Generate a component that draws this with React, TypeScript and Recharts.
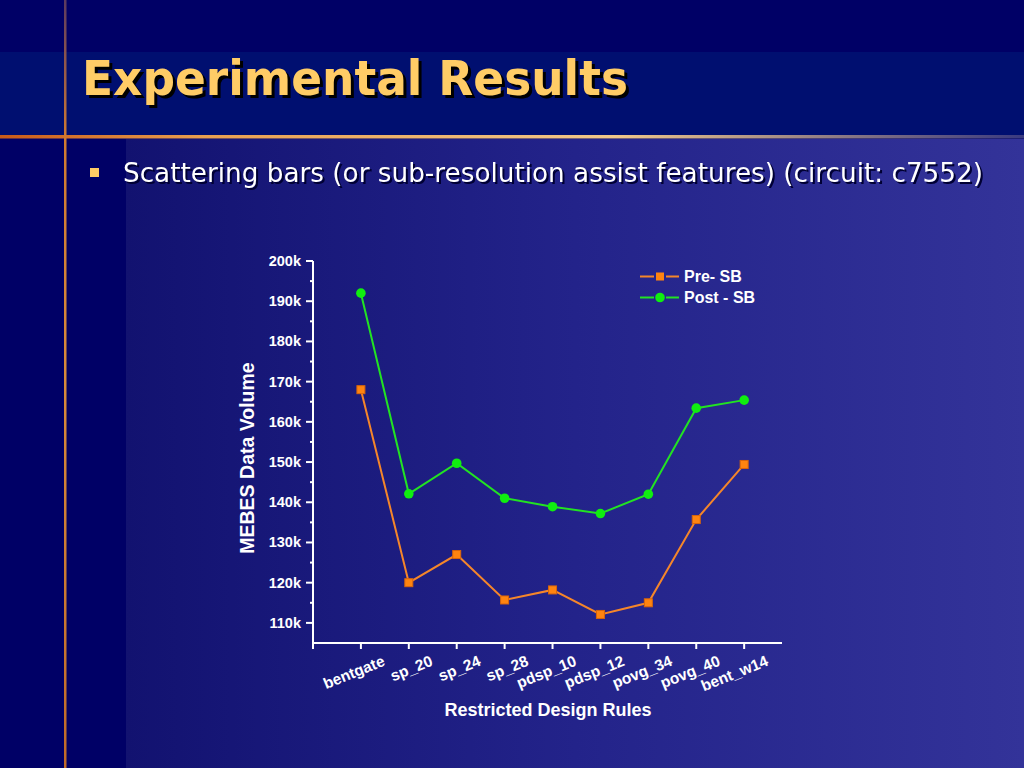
import React from 'react';
import { LineChart, Line, XAxis, YAxis, Legend } from 'recharts';

const categories = ['bentgate', 'sp_20', 'sp_24', 'sp_28', 'pdsp_10', 'pdsp_12', 'povg_34', 'povg_40', 'bent_w14'];
const preSB = [168000, 120000, 127000, 115700, 118200, 112100, 115000, 135700, 149400];
const postSB = [192000, 142100, 149700, 141000, 138900, 137200, 142000, 163400, 165400];
const yTicks = [110000, 115000, 120000, 125000, 130000, 135000, 140000, 145000, 150000, 155000, 160000, 165000, 170000, 175000, 180000, 185000, 190000, 195000, 200000];
const xTicks = [0, 1, 2, 3, 4, 5, 6, 7, 8, 9];

const data = categories.map((name, i) => ({ pos: i + 1, name, pre: preSB[i], post: postSB[i] }));

const ORANGE = '#f5862a';
const GREEN = '#22e322';
const FONT = '"Liberation Sans", Arial, sans-serif';

const YTick = (props: any) => {
  const { x, y, payload } = props;
  const major = payload.value % 10000 === 0;
  const axisX = x + 8;
  return (
    <g>
      <line x1={axisX - (major ? 7 : 3)} x2={axisX} y1={y} y2={y} stroke="#fff" strokeWidth={2} />
      {major && (
        <text x={axisX - 12} y={y} dy={5} textAnchor="end" fill="#fff" fontSize={14.5} fontWeight="bold" fontFamily={FONT}>
          {payload.value / 1000}k
        </text>
      )}
    </g>
  );
};

const XTick = (props: any) => {
  const { x, y, payload } = props;
  const axisY = y - 8;
  const label = categories[payload.value - 1];
  const ax = x + 25;
  const ay = axisY + 22;
  return (
    <g>
      <line x1={x} x2={x} y1={axisY} y2={axisY + 6} stroke="#fff" strokeWidth={2} />
      {label && (
        <text x={ax} y={ay} textAnchor="end" fill="#fff" fontSize={15.5} fontWeight="bold" fontFamily={FONT} transform={`rotate(-22, ${ax}, ${ay})`}>
          {label}
        </text>
      )}
    </g>
  );
};

const SquareDot = (props: any) => {
  const { cx, cy } = props;
  return <rect x={cx - 4} y={cy - 4} width={8} height={8} fill="#ff8410" stroke="#d9650a" strokeWidth={1} />;
};

const CircleDot = (props: any) => {
  const { cx, cy } = props;
  return <circle cx={cx} cy={cy} r={4.8} fill="#10ee10" />;
};

const LegendBox = () => (
  <div style={{ fontFamily: FONT, fontWeight: 'bold', fontSize: 16, color: '#fff', lineHeight: '21px' }}>
    {[
      { label: 'Pre- SB', color: ORANGE, square: true },
      { label: 'Post - SB', color: GREEN, square: false },
    ].map((it) => (
      <div key={it.label} style={{ display: 'flex', alignItems: 'center' }}>
        <svg width={44} height={21}>
          <line x1={0} x2={14} y1={10.5} y2={10.5} stroke={it.color} strokeWidth={2} />
          <line x1={26} x2={39} y1={10.5} y2={10.5} stroke={it.color} strokeWidth={2} />
          {it.square ? (
            <rect x={16} y={6.5} width={8} height={8} fill="#ff8410" />
          ) : (
            <circle cx={20} cy={10.5} r={4.8} fill="#10ee10" />
          )}
        </svg>
        <span>{it.label}</span>
      </div>
    ))}
  </div>
);

export default function App() {
  return (
    <div style={{ position: 'fixed', left: 0, top: 0, width: 1024, height: 768, overflow: 'hidden', background: '#000066' }}>
      {/* slide background */}
      <div style={{ position: 'absolute', left: 0, top: 52, width: 1024, height: 84, background: '#000f70' }} />
      <div style={{ position: 'absolute', left: 126, top: 139, width: 898, height: 629, background: 'linear-gradient(to right, #121270 0%, #23238a 50%, #333399 100%)' }} />
      <svg width={1024} height={768} style={{ position: 'absolute', left: 0, top: 0 }}>
        <defs>
          <linearGradient id="hline" x1="0" x2="1" y1="0" y2="0">
            <stop offset="0" stopColor="#c85a18" />
            <stop offset="0.2" stopColor="#e8a050" />
            <stop offset="0.6" stopColor="#f0c88a" />
            <stop offset="1" stopColor="#3a3a80" />
          </linearGradient>
          <linearGradient id="vline" x1="0" x2="0" y1="0" y2="1">
            <stop offset="0" stopColor="#5a3a60" />
            <stop offset="0.18" stopColor="#d07a30" />
            <stop offset="0.5" stopColor="#d88a3a" />
            <stop offset="1" stopColor="#c06a28" />
          </linearGradient>
        </defs>
        <rect x={0} y={135} width={1024} height={3.5} fill="url(#hline)" />
        <rect x={64} y={0} width={2.5} height={768} fill="url(#vline)" />
        <text
          x={82}
          y={95}
          fontSize={48}
          fontWeight="bold"
          fontFamily='"DejaVu Sans", sans-serif'
          fill="#ffcc66"
          textLength={546}
          lengthAdjust="spacingAndGlyphs"
          style={{ filter: 'drop-shadow(3px 3px 0px #000000)' }}
        >
          Experimental Results
        </text>
        <rect x={90} y={168} width={9} height={9} fill="#ffcc66" />
        <text
          x={123}
          y={182}
          fontSize={26}
          fontFamily='"DejaVu Sans", sans-serif'
          fill="#ffffff"
          textLength={860}
          lengthAdjust="spacingAndGlyphs"
          style={{ filter: 'drop-shadow(2px 2px 0px #000033)' }}
        >
          Scattering bars (or sub-resolution assist features) (circuit: c7552)
        </text>
        <text x={254} y={458} transform="rotate(-90, 254, 458)" textAnchor="middle" fontSize={19.5} fontWeight="bold" fontFamily={FONT} fill="#fff">
          MEBES Data Volume
        </text>
        <text x={548} y={716} textAnchor="middle" fontSize={18} fontWeight="bold" fontFamily={FONT} fill="#fff">
          Restricted Design Rules
        </text>
      </svg>
      <div style={{ position: 'absolute', left: 0, top: 0 }}>
        <LineChart width={1024} height={768} data={data} margin={{ top: 261, right: 242, bottom: 95, left: 253 }}>
          <XAxis
            type="number"
            dataKey="pos"
            domain={[0, 9.79]}
            ticks={xTicks}
            allowDataOverflow
            interval={0}
            height={30}
            tickSize={6}
            tickMargin={2}
            tickLine={false}
            axisLine={{ stroke: '#fff', strokeWidth: 2 }}
            tick={<XTick />}
          />
          <YAxis
            type="number"
            domain={[105000, 200000]}
            ticks={yTicks}
            allowDataOverflow
            interval={0}
            width={60}
            tickSize={6}
            tickMargin={2}
            tickLine={false}
            axisLine={{ stroke: '#fff', strokeWidth: 2 }}
            tick={<YTick />}
          />
          <Legend
            layout="vertical"
            align="center"
            verticalAlign="middle"
            content={<LegendBox />}
            wrapperStyle={{ position: 'absolute', left: 640, top: 266, width: 150 }}
          />
          <Line dataKey="pre" name="Pre- SB" stroke={ORANGE} strokeWidth={2} dot={<SquareDot />} activeDot={false} isAnimationActive={false} />
          <Line dataKey="post" name="Post - SB" stroke={GREEN} strokeWidth={2} dot={<CircleDot />} activeDot={false} isAnimationActive={false} />
        </LineChart>
      </div>
    </div>
  );
}
